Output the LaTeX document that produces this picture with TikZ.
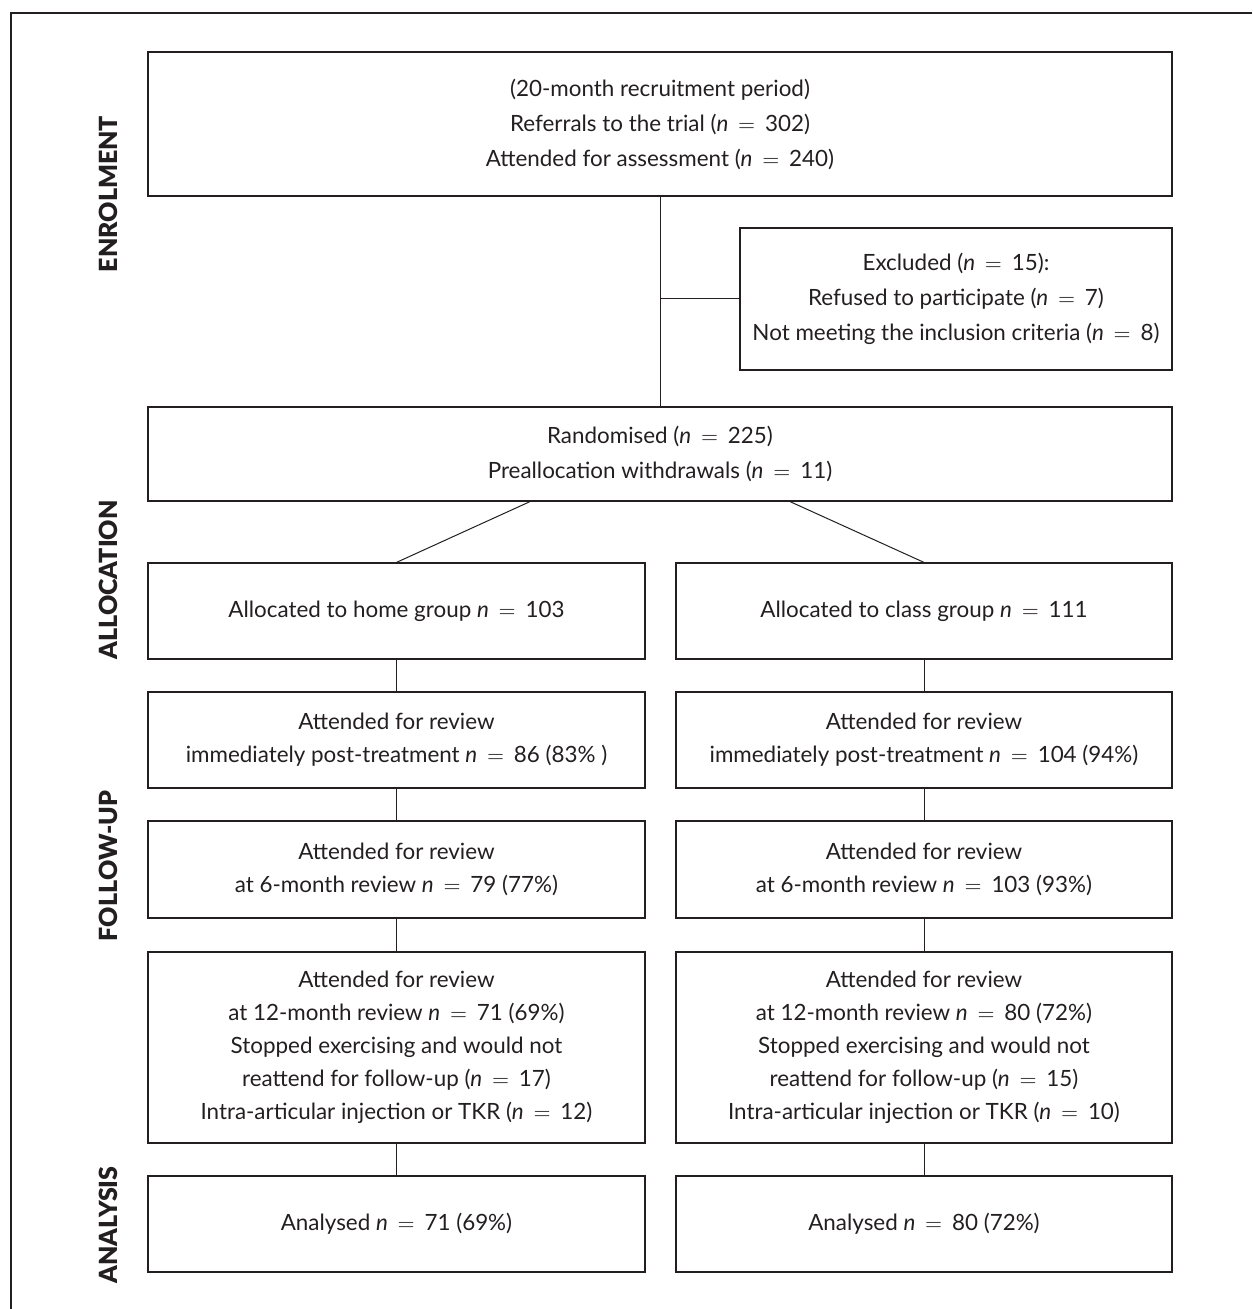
\documentclass[tikz,border=0pt]{standalone}
\usepackage{fontspec}
\setmainfont{Lato}
\newfontfamily\sidefont{Lato Black}
\newcommand{\eqn}{\textit{n}\,${}={}$\,}
\definecolor{ink}{HTML}{231F20}
\begin{document}
\begin{tikzpicture}[x=0.5pt,y=-0.5pt,
  box/.style={draw=ink,line width=0.6pt,inner sep=0pt,align=center,text=ink,
    font=\fontsize{11.2}{17.5}\selectfont},
  boxb/.style={box,font=\fontsize{11.2}{16.5}\selectfont},
  side/.style={rotate=90,text=ink,font=\fontsize{12.5}{14}\selectfont\sidefont,inner sep=0pt},
  link/.style={draw=ink,line width=0.5pt}]
\useasboundingbox (0,0) rectangle (1252,1309);
% frame
\coordinate (fTR) at (1252,13);
\coordinate (fTL) at (11,13);
\coordinate (fBL) at (11,1309);
\draw[ink,line width=0.7pt] (fTR) -- (fTL) -- (fBL);
% side labels
\node[side] (lEn) at (108,194) {ENROLMENT};
\node[side] (lAl) at (108,580) {ALLOCATION};
\node[side] (lFu) at (108,866) {FOLLOW-UP};
\node[side] (lAn) at (108,1225) {ANALYSIS};
% top boxes
\node[box,minimum width=512pt,minimum height=72pt] (main) at (660,124)
  {(20-month recruitment period)\\Referrals to the trial (\eqn302)\\Attended for assessment (\eqn240)};
\node[box,minimum width=216pt,minimum height=71pt] (excl) at (956,299)
  {Excluded (\eqn15):\\Refused to participate (\eqn7)\\Not meeting the inclusion criteria (\eqn8)};
\node[box,minimum width=512pt,minimum height=47pt] (rand) at (660,454)
  {Randomised (\eqn225)\\Preallocation withdrawals (\eqn11)};
% left column
\node[boxb,minimum width=248.5pt,minimum height=48pt] (h1) at (396.5,611)
  {Allocated to home group \eqn103};
\node[boxb,minimum width=248.5pt,minimum height=48pt] (h2) at (396.5,740)
  {Attended for review\\immediately post-treatment \eqn86 (83\% )};
\node[boxb,minimum width=248.5pt,minimum height=48.5pt] (h3) at (396.5,869.5)
  {Attended for review\\at 6-month review \eqn79 (77\%)};
\node[boxb,minimum width=248.5pt,minimum height=95.5pt] (h4) at (396.5,1047.5)
  {Attended for review\\at 12-month review \eqn71 (69\%)\\Stopped exercising and would not\\reattend for follow-up (\eqn17)\\Intra-articular injection or TKR (\eqn12)};
\node[boxb,minimum width=248.5pt,minimum height=48pt] (h5) at (396.5,1224)
  {Analysed \eqn71 (69\%)};
% right column
\node[boxb,minimum width=248pt,minimum height=48pt] (c1) at (924,611)
  {Allocated to class group \eqn111};
\node[boxb,minimum width=248pt,minimum height=48pt] (c2) at (924,740)
  {Attended for review\\immediately post-treatment \eqn104 (94\%)};
\node[boxb,minimum width=248pt,minimum height=48.5pt] (c3) at (924,869.5)
  {Attended for review\\at 6-month review \eqn103 (93\%)};
\node[boxb,minimum width=248pt,minimum height=95.5pt] (c4) at (924,1047.5)
  {Attended for review\\at 12-month review \eqn80 (72\%)\\Stopped exercising and would not\\reattend for follow-up (\eqn15)\\Intra-articular injection or TKR (\eqn10)};
\node[boxb,minimum width=248pt,minimum height=48pt] (c5) at (924,1224)
  {Analysed \eqn80 (72\%)};
% connectors
\coordinate (br) at (main.south |- excl.west);
\draw[link] (main.south) -- (rand.north);
\draw[link] (br) -- (excl.west);
\draw[link] ([xshift=-65pt]rand.south) -- (h1.north);
\draw[link] ([xshift=65pt]rand.south) -- (c1.north);
\draw[link] (h1) -- (h2); \draw[link] (h2) -- (h3); \draw[link] (h3) -- (h4); \draw[link] (h4) -- (h5);
\draw[link] (c1) -- (c2); \draw[link] (c2) -- (c3); \draw[link] (c3) -- (c4); \draw[link] (c4) -- (c5);
\end{tikzpicture}
\end{document}
